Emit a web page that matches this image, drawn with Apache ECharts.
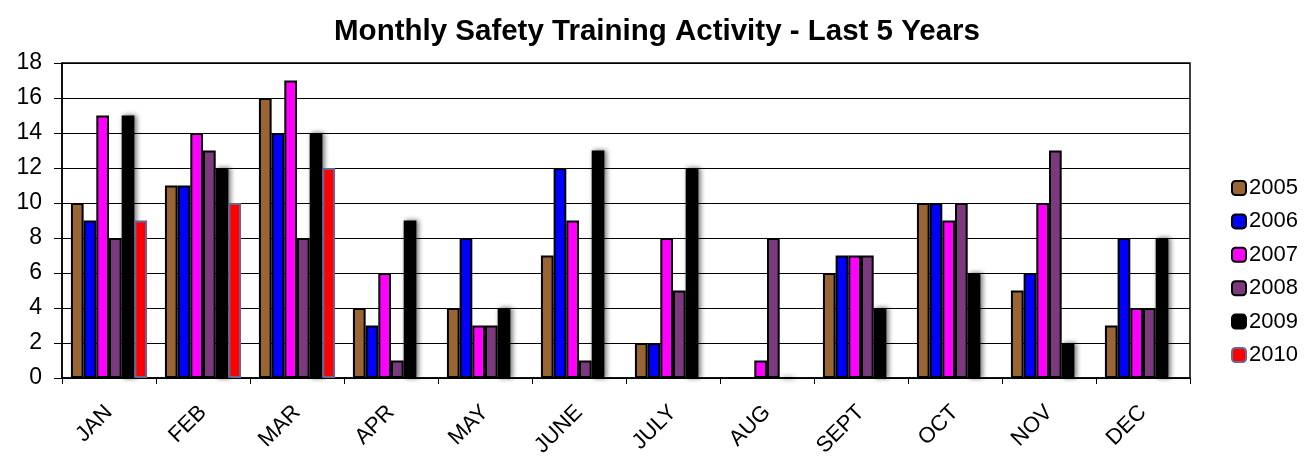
<!DOCTYPE html>
<html>
<head>
<meta charset="utf-8">
<script src="https://cdn.jsdelivr.net/npm/echarts@6/dist/echarts.min.js"></script>
<style>
html,body{margin:0;padding:0;background:#fff;}
#chart{width:1314px;height:461px;}
</style>
</head>
<body>
<div id="chart"></div>
<script>
const months = ['JAN','FEB','MAR','APR','MAY','JUNE','JULY','AUG','SEPT','OCT','NOV','DEC'];
const years = ['2005','2006','2007','2008','2009','2010'];
const y2005 = [10, 11, 16, 4, 4, 7, 2, 0, 6, 10, 5, 3];
const y2006 = [9, 11, 14, 3, 8, 12, 2, 0, 7, 10, 6, 8];
const y2007 = [15, 14, 17, 6, 3, 9, 8, 1, 7, 9, 10, 4];
const y2008 = [8, 13, 8, 1, 3, 1, 5, 8, 7, 10, 13, 4];
const y2009 = [15, 12, 14, 9, 4, 13, 12, 0, 4, 6, 2, 8];
const y2010 = [9, 10, 12, null, null, null, null, null, null, null, null, null];
const yTicks = [0, 2, 4, 6, 8, 10, 12, 14, 16, 18];

const seriesData = [y2005, y2006, y2007, y2008, y2009, y2010];
const colors = ['#996633', '#0000ff', '#ff00ff', '#7a3a7d', '#000000', '#ff0000'];
const borders = ['#000', '#000', '#000', '#000', '#000', '#666699'];

const chart = echarts.init(document.getElementById('chart'));
const FONT = '"Liberation Sans", Arial, sans-serif';
chart.setOption({
  animation: false,
  backgroundColor: '#fff',
  title: {
    text: 'Monthly Safety Training Activity - Last 5 Years',
    left: 'center', top: 12,
    textStyle: {fontFamily: FONT, fontSize: 29.5, fontWeight: 'bold', color: '#000'}
  },
  legend: {
    orient: 'vertical', left: 1226, top: 172,
    itemWidth: 14, itemHeight: 14, itemGap: 11.4,
    textStyle: {fontFamily: FONT, fontSize: 22, color: '#000', padding: [0,0,0,-2]},
    data: years
  },
  grid: {left: 62, right: 124, top: 63, bottom: 83, show: true, borderColor: '#000', borderWidth: 1.5},
  xAxis: {
    type: 'category', data: months,
    axisLine: {lineStyle: {color: '#000', width: 1.5}},
    axisTick: {show: true, length: 6, lineStyle: {color: '#000'}},
    axisLabel: {rotate: 45, fontFamily: FONT, fontSize: 22, color: '#000', margin: 31}
  },
  yAxis: {
    type: 'value', min: 0, max: 18, interval: 2,
    axisLine: {show: true, lineStyle: {color: '#000', width: 1.5}},
    axisTick: {show: true, length: 8, lineStyle: {color: '#000'}},
    axisLabel: {fontFamily: FONT, fontSize: 23, color: '#000', margin: 20,
      formatter: v => yTicks.includes(v) ? String(v) : ''},
    splitLine: {lineStyle: {color: '#000', width: 1}}
  },
  series: years.map((y, i) => ({
    name: y, type: 'bar', data: seriesData[i],
    barGap: '0%', barCategoryGap: '19%',
    itemStyle: Object.assign({color: colors[i], borderColor: borders[i], borderWidth: 2},
      i === 4 ? {shadowBlur: 5, shadowColor: 'rgba(0,0,0,0.5)', shadowOffsetX: 2} : {})
  }))
});
</script>
</body>
</html>
